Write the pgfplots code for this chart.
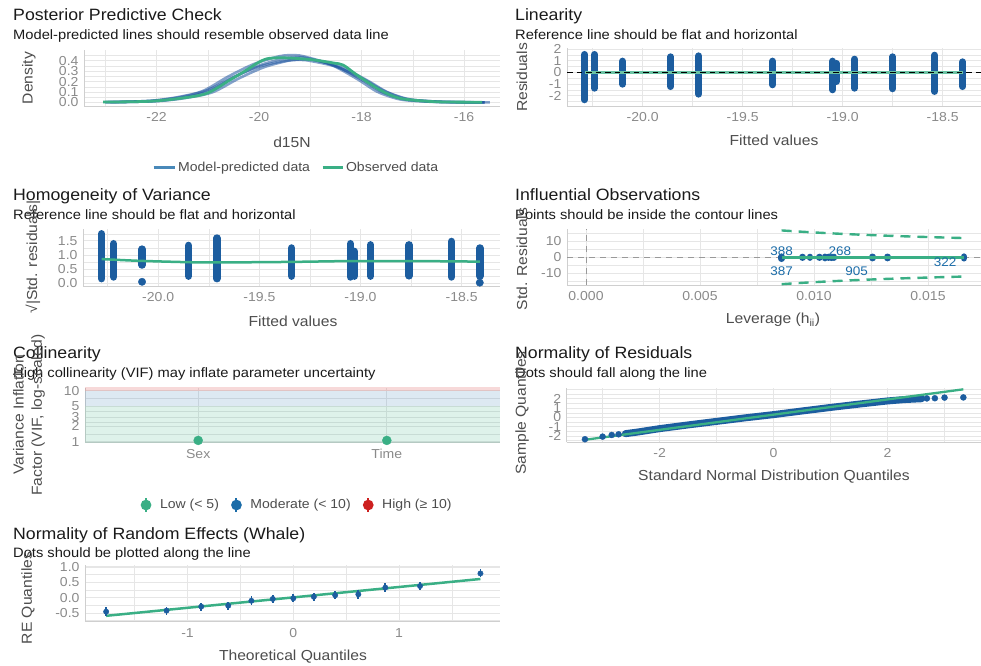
\documentclass[border=0pt]{standalone}
\usepackage{pgfplots}
\pgfplotsset{compat=1.18}
\usepackage{fontspec}
\setmainfont{Liberation Sans}[FakeStretch=1.08]
\definecolor{vgreen}{HTML}{3AAF85}
\definecolor{vblue}{HTML}{1B6CA8}
\definecolor{vred}{HTML}{CD201F}
\definecolor{ptblue}{HTML}{1C5D9F}
\definecolor{ppcblue}{HTML}{1E55A0}
\definecolor{gridc}{HTML}{E6E6E6}
\definecolor{axlc}{HTML}{CFCFCF}
\definecolor{tickc}{HTML}{8A8A8A}
\definecolor{labc}{HTML}{4D4D4D}
\definecolor{titc}{HTML}{1A1A1A}
\newcommand{\ttl}{\fontsize{16.4}{19}\selectfont\color{titc}}
\newcommand{\sbt}{\fontsize{13.6}{16}\selectfont\color{titc}}
\newcommand{\axt}{\fontsize{14.5}{18}\selectfont\color{labc}}
\pgfplotsset{
  panel/.style={
    scale only axis, anchor=south west,
    axis x line*=bottom, axis y line*=left,
    axis line style={-, draw=axlc, line width=0.8pt},
    major tick length=0pt, minor tick length=0pt,
    tick style={draw=none},
    grid=both,
    major grid style={draw=gridc, line width=1pt},
    minor grid style={draw=gridc, line width=0.5pt},
    tick label style={font=\fontsize{13}{13}\selectfont, text=tickc},
    xticklabel style={yshift=-3pt},
    yticklabel style={xshift=-2pt},
    /pgf/number format/assume math mode=true,
  },
  strip/.style={draw=ptblue, line width=7pt, line cap=round},
  hstrip/.style={draw=ptblue, line width=7.5pt, line cap=round},
}
\begin{document}
\begin{tikzpicture}
\path[use as bounding box] (0pt,0pt) rectangle (981pt,665pt);

% ---------------- Panel 1: Posterior Predictive Check
\node[anchor=base west, inner sep=0] at (13pt,644.3pt) {\ttl Posterior Predictive Check};
\node[anchor=base west, inner sep=0] at (13pt,625.7pt) {\sbt Model-predicted lines should resemble observed data line};
\begin{axis}[panel, at={(84pt,559pt)}, width=416pt, height=56pt,
  xmin=-23.415, xmax=-15.30, ymin=-0.0337, ymax=0.505,
  xtick={-22,-20,-18,-16}, minor xtick={-23,-21,-19,-17},
  ytick={0,0.1,0.2,0.3,0.4}, minor ytick={0.05,0.15,0.25,0.35,0.45},
  yticklabel style={/pgf/number format/fixed,/pgf/number format/fixed zerofill,/pgf/number format/precision=1},
  legend columns=2,
  legend style={draw=none, fill=none, at={(0.51,-1.107)}, anchor=center,
    font=\fontsize{13}{13}\selectfont, text=labc,
    /tikz/every even column/.append style={column sep=9pt}},
  legend cell align=left]
\addlegendimage{draw=vblue!80, line width=3pt, legend image code/.code={\draw (0pt,0pt)--(21pt,0pt);}}
\addlegendentry{Model-predicted data}
\addlegendimage{draw=vgreen, line width=3pt, legend image code/.code={\draw (0pt,0pt)--(20pt,0pt);}}
\addlegendentry{Observed data}
\addplot[forget plot, smooth, draw=ppcblue, line width=2.6pt, opacity=0.55] coordinates {
(-23.0,0.003) (-22.5,0.006) (-22.0,0.015) (-21.5,0.045) (-21.0,0.105) (-20.5,0.24) (-20.0,0.355) (-19.5,0.425) (-19.2,0.435) (-19.0,0.42) (-18.5,0.35) (-18.0,0.22) (-17.6,0.10) (-17.25,0.04) (-17.0,0.02) (-16.5,0.006) (-16.0,0.002) (-15.6,0.001)};
\addplot[forget plot, smooth, draw=ppcblue, line width=2.6pt, opacity=0.55] coordinates {
(-22.9,0.003) (-22.4,0.007) (-21.9,0.016) (-21.4,0.046) (-20.9,0.10) (-20.4,0.23) (-19.9,0.34) (-19.4,0.405) (-19.1,0.415) (-18.9,0.405) (-18.4,0.34) (-17.9,0.215) (-17.5,0.10) (-17.15,0.04) (-16.9,0.02) (-16.4,0.006) (-15.9,0.002) (-15.5,0.001)};
\addplot[forget plot, smooth, draw=ppcblue, line width=2.6pt, opacity=0.55] coordinates {
(-23.0,0.004) (-22.6,0.007) (-22.1,0.017) (-21.6,0.05) (-21.1,0.11) (-20.6,0.25) (-20.1,0.37) (-19.6,0.445) (-19.3,0.455) (-19.1,0.44) (-18.6,0.365) (-18.1,0.23) (-17.7,0.105) (-17.35,0.042) (-17.1,0.02) (-16.6,0.006) (-16.1,0.002) (-15.6,0.001)};
\addplot[forget plot, smooth, draw=ppcblue, line width=2.6pt, opacity=0.55] coordinates {
(-23.0,0.003) (-22.5,0.008) (-22.0,0.02) (-21.5,0.055) (-21.0,0.12) (-20.5,0.245) (-20.0,0.345) (-19.5,0.40) (-19.2,0.41) (-19.0,0.40) (-18.5,0.345) (-18.0,0.235) (-17.6,0.12) (-17.25,0.05) (-17.0,0.025) (-16.5,0.008) (-16.0,0.003) (-15.6,0.001)};
\addplot[forget plot, smooth, draw=vgreen, line width=2.8pt] coordinates {
(-23.04,0.004) (-22.5,0.007) (-22.06,0.014) (-21.54,0.04) (-21.02,0.088) (-20.57,0.216) (-20.25,0.31) (-20.04,0.377) (-19.85,0.42) (-19.6,0.43) (-19.3,0.425) (-18.94,0.41) (-18.55,0.38) (-18.36,0.36) (-18.09,0.264) (-17.64,0.12) (-17.25,0.04) (-16.66,0.01) (-16.2,0.004) (-15.65,0.003)};
\end{axis}
\node[rotate=90, inner sep=0] at (29pt,587pt) {\axt Density};
\node[inner sep=0] at (292pt,523pt) {\axt d15N};

% ---------------- Panel 2: Linearity
\node[anchor=base west, inner sep=0] at (515pt,644.3pt) {\ttl Linearity};
\node[anchor=base west, inner sep=0] at (515pt,625.7pt) {\sbt Reference line should be flat and horizontal};
\begin{axis}[panel, at={(567pt,559pt)}, width=414pt, height=57.5pt,
  xmin=-20.378, xmax=-18.308, ymin=-2.863, ymax=2.05,
  xtick={-20,-19.5,-19,-18.5}, minor xtick={-20.25,-19.75,-19.25,-18.75},
  ytick={-2,-1,0,1,2}, minor ytick={-2.5,-1.5,-0.5,0.5,1.5},
  xticklabel style={/pgf/number format/fixed,/pgf/number format/fixed zerofill,/pgf/number format/precision=1}]
\addplot[strip] coordinates {(-20.29,1.54) (-20.29,-2.33)};
\addplot[strip] coordinates {(-20.24,1.54) (-20.24,-1.34)};
\addplot[strip] coordinates {(-20.10,0.97) (-20.10,-1.00)};
\addplot[strip] coordinates {(-19.86,1.34) (-19.86,-1.20)};
\addplot[strip] coordinates {(-19.72,1.42) (-19.72,-1.85)};
\addplot[strip] coordinates {(-19.35,0.97) (-19.35,-1.05)};
\addplot[strip] coordinates {(-19.05,0.97) (-19.05,-1.48)};
\addplot[strip] coordinates {(-19.03,0.77) (-19.03,-0.77)};
\addplot[strip] coordinates {(-18.94,1.14) (-18.94,-1.34)};
\addplot[strip] coordinates {(-18.75,1.34) (-18.75,-1.39)};
\addplot[strip] coordinates {(-18.54,1.48) (-18.54,-1.62)};
\addplot[strip] coordinates {(-18.40,0.91) (-18.40,-1.20)};
\addplot[draw=vgreen!75, line width=3pt] coordinates {(-20.29,0.02) (-18.40,0.02)};
\addplot[draw=black, line width=1.4pt, dash pattern=on 5.5pt off 4pt] coordinates {(-20.378,0) (-18.308,0)};
\end{axis}
\node[rotate=90, inner sep=0] at (522pt,587.5pt) {\axt Residuals};
\node[inner sep=0] at (774pt,525pt) {\axt Fitted values};

% ---------------- Panel 3: Homogeneity of Variance
\node[anchor=base west, inner sep=0] at (13pt,464.3pt) {\ttl Homogeneity of Variance};
\node[anchor=base west, inner sep=0] at (13pt,445.7pt) {\sbt Reference line should be flat and horizontal};
\begin{axis}[panel, at={(83pt,379pt)}, width=417pt, height=57pt,
  xmin=-20.372, xmax=-18.31, ymin=-0.088, ymax=1.919,
  xtick={-20,-19.5,-19,-18.5}, minor xtick={-20.25,-19.75,-19.25,-18.75},
  ytick={0,0.5,1,1.5}, minor ytick={0.25,0.75,1.25,1.75},
  xticklabel style={/pgf/number format/fixed,/pgf/number format/fixed zerofill,/pgf/number format/precision=1},
  yticklabel style={/pgf/number format/fixed,/pgf/number format/fixed zerofill,/pgf/number format/precision=1}]
\addplot[hstrip] coordinates {(-20.28,1.75) (-20.28,0.17)};
\addplot[hstrip] coordinates {(-20.22,1.40) (-20.22,0.23)};
\addplot[hstrip] coordinates {(-20.08,1.21) (-20.08,0.65)};
\addplot[hstrip] coordinates {(-19.85,1.34) (-19.85,0.26)};
\addplot[hstrip] coordinates {(-19.71,1.60) (-19.71,0.17)};
\addplot[hstrip] coordinates {(-19.34,1.25) (-19.34,0.26)};
\addplot[hstrip] coordinates {(-19.05,1.40) (-19.05,0.23)};
\addplot[hstrip] coordinates {(-19.03,1.13) (-19.03,0.26)};
\addplot[hstrip] coordinates {(-18.95,1.36) (-18.95,0.26)};
\addplot[hstrip] coordinates {(-18.76,1.36) (-18.76,0.27)};
\addplot[hstrip] coordinates {(-18.55,1.48) (-18.55,0.23)};
\addplot[hstrip] coordinates {(-18.41,1.25) (-18.41,0.26)};
\addplot[only marks, mark=*, mark size=3.7pt, color=ptblue] coordinates {(-20.08,0.06) (-18.41,0.03)};
\addplot[smooth, draw=vgreen, line width=2.5pt] coordinates {(-20.28,0.86) (-20.1,0.80) (-19.85,0.75) (-19.72,0.74) (-19.35,0.76) (-19.05,0.79) (-18.75,0.79) (-18.55,0.78) (-18.41,0.77)};
\end{axis}
\node[rotate=90, inner sep=0] at (33pt,408pt) {\axt √|Std. residuals|};
\node[inner sep=0] at (293pt,343.3pt) {\axt Fitted values};

% ---------------- Panel 4: Influential Observations
\node[anchor=base west, inner sep=0] at (515pt,464.3pt) {\ttl Influential Observations};
\node[anchor=base west, inner sep=0] at (515pt,445.7pt) {\sbt Points should be inside the contour lines};
\begin{axis}[panel, at={(567pt,380pt)}, width=414pt, height=56pt,
  xmin=-0.000833, xmax=0.017325, ymin=-17.53, ymax=17.91,
  scaled x ticks=false,
  xtick={0,0.005,0.01,0.015}, minor xtick={0.0025,0.0075,0.0125},
  ytick={-10,0,10}, minor ytick={-15,-5,5,15},
  xticklabel style={/pgf/number format/fixed,/pgf/number format/fixed zerofill,/pgf/number format/precision=3}]
\addplot[draw=black!40, line width=0.9pt, dash pattern=on 6pt off 5pt] coordinates {(0,-17.53) (0,17.91)};
\addplot[draw=black!40, line width=0.9pt, dash pattern=on 6pt off 5pt] coordinates {(-0.000833,0) (0.017325,0)};
\addplot[smooth, draw=vgreen, line width=2.4pt, dash pattern=on 10pt off 7pt] coordinates {(0.00858,17.0) (0.0095,16.15) (0.0105,15.35) (0.0115,14.65) (0.0125,14.05) (0.0135,13.51) (0.0145,13.03) (0.0155,12.60) (0.0166,12.17)};
\addplot[smooth, draw=vgreen, line width=2.4pt, dash pattern=on 10pt off 7pt] coordinates {(0.00858,-17.0) (0.0095,-16.15) (0.0105,-15.35) (0.0115,-14.65) (0.0125,-14.05) (0.0135,-13.51) (0.0145,-13.03) (0.0155,-12.60) (0.0166,-12.17)};
\addplot[strip, line width=6.6pt] coordinates {(0.00858,0.4) (0.00858,-0.9)};
\addplot[strip, line width=6.6pt] coordinates {(0.00950,0.2) (0.00950,-0.2)};
\addplot[strip, line width=6.6pt] coordinates {(0.00982,0.2) (0.00982,-0.2)};
\addplot[strip, line width=6.6pt] coordinates {(0.01023,0.2) (0.01023,-0.2)};
\addplot[strip, line width=6.6pt] coordinates {(0.01048,0.3) (0.01048,-0.5)};
\addplot[strip, line width=6.6pt] coordinates {(0.01063,0.2) (0.01063,-0.2)};
\addplot[strip, line width=6.6pt] coordinates {(0.01078,0.3) (0.01078,-0.3)};
\addplot[strip, line width=6.6pt] coordinates {(0.01088,0.2) (0.01088,-0.2)};
\addplot[strip, line width=6.6pt] coordinates {(0.01257,0.3) (0.01257,-0.5)};
\addplot[strip, line width=6.6pt] coordinates {(0.01323,0.3) (0.01323,-0.5)};
\addplot[strip, line width=6.6pt] coordinates {(0.01658,0.4) (0.01658,-0.6)};
\addplot[draw=vgreen, line width=3pt] coordinates {(0.00858,-0.1) (0.01658,-0.1)};
\node[text=vblue, font=\fontsize{12.5}{12.5}\selectfont] at (axis cs:0.00858,4.0) {388};
\node[text=vblue, font=\fontsize{12.5}{12.5}\selectfont] at (axis cs:0.01114,4.0) {268};
\node[text=vblue, font=\fontsize{12.5}{12.5}\selectfont] at (axis cs:0.00858,-8.7) {387};
\node[text=vblue, font=\fontsize{12.5}{12.5}\selectfont] at (axis cs:0.01187,-8.7) {905};
\node[text=vblue, font=\fontsize{12.5}{12.5}\selectfont] at (axis cs:0.01575,-3.2) {322};
\end{axis}
\node[rotate=90, inner sep=0] at (522pt,406pt) {\axt Std. Residuals};
\node[inner sep=0] at (773pt,345pt) {\axt Leverage (h\textsubscript{ii})};

% ---------------- Panel 5: Collinearity
\node[anchor=base west, inner sep=0] at (13pt,306.5pt) {\ttl Collinearity};
\node[anchor=base west, inner sep=0] at (13pt,288pt) {\sbt High collinearity (VIF) may inflate parameter uncertainty};
\begin{axis}[panel, at={(85pt,222.3pt)}, width=415pt, height=55pt,
  ymode=log, xmin=0.4, xmax=2.6, ymin=0.956, ymax=11.45,
  xtick={1,2}, xticklabels={Sex,Time},
  ytick={1,2,3,5,10}, yticklabels={1,2,3,5,10},
  minor ytick={1.414,2.449,3.873,7.071},
  legend columns=3,
  legend style={draw=none, fill=none, at={(0.511,-1.133)}, anchor=center,
    font=\fontsize{13}{13}\selectfont, text=labc,
    /tikz/every even column/.append style={column sep=10pt}},
  legend cell align=left]
\addlegendimage{draw=vgreen, fill=vgreen, line width=2pt, legend image code/.code={\path (-4.5pt,0pt) (11pt,0pt); \draw (0pt,-7pt)--(0pt,7pt); \fill (0pt,0pt) circle (4.3pt);}}
\addlegendentry{Low (< 5)}
\addlegendimage{draw=vblue, fill=vblue, line width=2pt, legend image code/.code={\path (-4.5pt,0pt) (11pt,0pt); \draw (0pt,-7pt)--(0pt,7pt); \fill (0pt,0pt) circle (4.3pt);}}
\addlegendentry{Moderate (< 10)}
\addlegendimage{draw=vred, fill=vred, line width=2pt, legend image code/.code={\path (-4.5pt,0pt) (11pt,0pt); \draw (0pt,-7pt)--(0pt,7pt); \fill (0pt,0pt) circle (4.3pt);}}
\addlegendentry{High (≥ 10)}
\fill[vgreen, opacity=0.17] (axis cs:0.4,0.9) rectangle (axis cs:2.6,5);
\fill[vblue, opacity=0.15] (axis cs:0.4,5) rectangle (axis cs:2.6,10);
\fill[vred, opacity=0.17] (axis cs:0.4,10) rectangle (axis cs:2.6,12);
\addplot[forget plot, only marks, mark=*, mark size=4.5pt, color=vgreen] coordinates {(1,1.06) (2,1.06)};
\end{axis}
\node[rotate=90, inner sep=0, align=center, font=\fontsize{14.5}{18}\selectfont, text=labc] at (29pt,250pt) {Variance Inflation\\Factor (VIF, log-scaled)};

% ---------------- Panel 6: Normality of Residuals
\node[anchor=base west, inner sep=0] at (515pt,306.5pt) {\ttl Normality of Residuals};
\node[anchor=base west, inner sep=0] at (515pt,288pt) {\sbt Dots should fall along the line};
\begin{axis}[panel, at={(566.7pt,222.7pt)}, width=414.3pt, height=54pt,
  xmin=-3.63, xmax=3.64, ymin=-2.67, ymax=3.14,
  xtick={-2,0,2}, minor xtick={-3,-1,1,3},
  ytick={-2,-1,0,1,2}, minor ytick={-2.5,-1.5,-0.5,0.5,1.5,2.5,3}]
\addplot[draw=ptblue, line width=7pt, line cap=round, line join=round] coordinates {
(-2.6,-1.74) (-2.4,-1.58) (-2.0,-1.2) (-1.5,-0.8) (-1.0,-0.42) (-0.5,-0.04) (0,0.31) (0.5,0.7) (1.0,1.08) (1.5,1.44) (2.0,1.78) (2.3,1.93) (2.6,2.02)};
\addplot[only marks, mark=*, mark size=3pt, color=ptblue] coordinates {
(-3.31,-2.34) (-3.0,-2.06) (-2.84,-1.88) (-2.72,-1.81) (2.69,2.05) (2.83,2.07) (3.0,2.14) (3.33,2.16)};
\addplot[draw=vgreen, line width=2.3pt] coordinates {(-3.31,-2.4) (3.33,3.03)};
\end{axis}
\node[rotate=90, inner sep=0] at (522pt,252pt) {\axt Sample Quantiles};
\node[inner sep=0] at (774pt,188.3pt) {\axt Standard Normal Distribution Quantiles};

% ---------------- Panel 7: Normality of Random Effects
\node[anchor=base west, inner sep=0] at (13pt,125.5pt) {\ttl Normality of Random Effects (Whale)};
\node[anchor=base west, inner sep=0] at (13pt,108pt) {\sbt Dots should be plotted along the line};
\begin{axis}[panel, at={(85pt,43.3pt)}, width=415pt, height=56.7pt,
  xmin=-1.969, xmax=1.954, ymin=-0.782, ymax=1.065,
  xtick={-1,0,1}, minor xtick={-1.5,-0.5,0.5,1.5},
  ytick={-0.5,0,0.5,1}, minor ytick={-0.75,-0.25,0.25,0.75},
  yticklabel style={/pgf/number format/fixed,/pgf/number format/fixed zerofill,/pgf/number format/precision=1}]
\addplot[draw=vgreen, line width=2.5pt] coordinates {(-1.769,-0.59) (1.769,0.61)};
\addplot[only marks, mark=*, mark size=2.7pt, color=ptblue,
  error bars/.cd, y dir=both, y explicit, error mark=none,
  error bar style={line width=1.8pt, color=ptblue}] coordinates {
(-1.769,-0.456) +- (0,0.14)
(-1.198,-0.42) +- (0,0.13)
(-0.870,-0.29) +- (0,0.13)
(-0.615,-0.26) +- (0,0.13)
(-0.396,-0.10) +- (0,0.14)
(-0.194,-0.04) +- (0,0.13)
(0,-0.02) +- (0,0.13)
(0.194,0.03) +- (0,0.13)
(0.396,0.08) +- (0,0.13)
(0.615,0.11) +- (0,0.14)
(0.870,0.33) +- (0,0.15)
(1.198,0.38) +- (0,0.14)
(1.769,0.79) +- (0,0.13)};
\end{axis}
\node[rotate=90, inner sep=0] at (28pt,67pt) {\axt RE Quantiles};
\node[inner sep=0] at (293pt,8.3pt) {\axt Theoretical Quantiles};
\end{tikzpicture}
\end{document}
